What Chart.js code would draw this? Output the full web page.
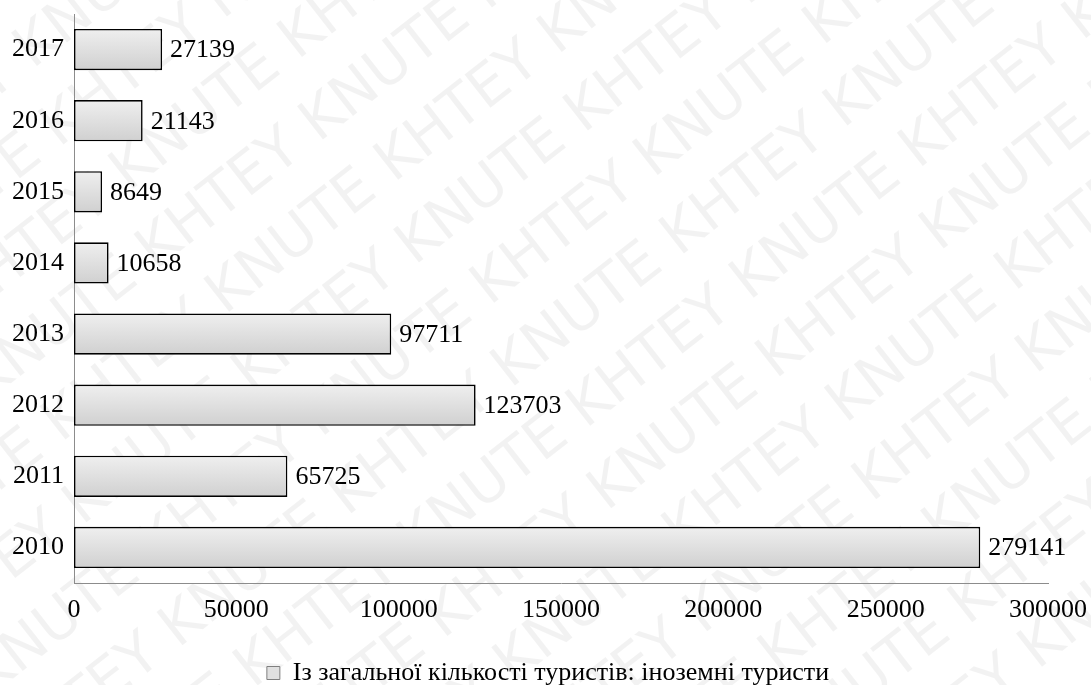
<!DOCTYPE html>
<html>
<head>
<meta charset="utf-8">
<script src="https://cdn.jsdelivr.net/npm/chart.js@4/dist/chart.umd.min.js"></script>
<style>
  html, body { margin: 0; padding: 0; background: #ffffff; }
  #wrap { width: 1091px; height: 685px; position: relative; }
</style>
</head>
<body>
<div id="wrap"><canvas id="c" width="1091" height="685"></canvas></div>
<script>
const categories = ['2010', '2011', '2012', '2013', '2014', '2015', '2016', '2017'];
const foreignTourists = [279141, 65725, 123703, 97711, 10658, 8649, 21143, 27139];
const seriesName = 'Із загальної кількості туристів: іноземні туристи';
const xTicks = [0, 50000, 100000, 150000, 200000, 250000, 300000];

const SERIF = '"Liberation Serif", "Times New Roman", serif';

const watermark = {
  id: 'watermark',
  beforeDraw(chart) {
    const ctx = chart.ctx;
    ctx.save();
    ctx.fillStyle = '#ffffff';
    ctx.fillRect(0, 0, chart.width, chart.height);
    ctx.translate(chart.width / 2, chart.height / 2);
    ctx.rotate(-38 * Math.PI / 180);
    ctx.font = '58px "DejaVu Sans", sans-serif';
    ctx.fillStyle = 'rgba(0,0,0,0.05)';
    ctx.textBaseline = 'middle';
    const line = 'KNUTE KHTEY KNUTE KHTEY KNUTE KHTEY KNUTE KHTEY KNUTE KHTEY';
    for (let i = -9; i <= 9; i++) {
      const alt = (i % 2 === 0) ? 0 : -180;
      ctx.fillText(line, -900 + alt, i * 78);
    }
    ctx.restore();
  }
};

const barGradient = {
  id: 'barGradient',
  beforeDatasetsDraw(chart) {
    const ctx = chart.ctx;
    chart.getDatasetMeta(0).data.forEach(el => {
      const top = el.y - el.height / 2;
      const bottom = el.y + el.height / 2;
      const g = ctx.createLinearGradient(0, top, 0, bottom);
      g.addColorStop(0, '#efefef');
      g.addColorStop(1, '#d0d0d0');
      el.options = Object.assign({}, el.options, { backgroundColor: g });
    });
  }
};

const valueLabels = {
  id: 'valueLabels',
  afterDatasetsDraw(chart) {
    const ctx = chart.ctx;
    ctx.save();
    ctx.font = '26px ' + SERIF;
    ctx.fillStyle = '#000000';
    ctx.textAlign = 'left';
    ctx.textBaseline = 'middle';
    const meta = chart.getDatasetMeta(0);
    meta.data.forEach((el, i) => {
      ctx.fillText(String(chart.data.datasets[0].data[i]), el.x + 8, el.y + 1);
    });
    ctx.restore();
  }
};

const legendShift = {
  id: 'legendShift',
  afterLayout(chart) {
    const lg = chart.legend;
    if (lg) { lg.left += 24; lg.right += 24; }
  }
};

new Chart(document.getElementById('c'), {
  type: 'bar',
  data: {
    labels: categories,
    datasets: [{
      label: seriesName,
      data: foreignTourists,
      backgroundColor: () => '#e0e0e0',
      borderColor: '#000000',
      borderWidth: 1.6,
      borderSkipped: false,
      barPercentage: 0.58,
      categoryPercentage: 1.0
    }]
  },
  options: {
    indexAxis: 'y',
    responsive: false,
    animation: false,
    events: [],
    layout: { padding: { top: 14, right: 43, left: 0, bottom: -11 } },
    scales: {
      x: {
        min: 0,
        max: 300000,
        afterBuildTicks(scale) { scale.ticks = xTicks.map(v => ({ value: v })); },
        afterFit(scale) { scale.height = 67; scale.paddingLeft = 0; scale.paddingRight = 0; },
        grid: { display: false, drawTicks: false },
        border: { display: true, color: '#8c8c8c', width: 1 },
        ticks: {
          font: { family: SERIF, size: 26 },
          color: '#000000',
          padding: 12,
          maxRotation: 0,
          autoSkip: false,
          callback: v => String(v)
        }
      },
      y: {
        reverse: true,
        afterFit(scale) { scale.width = 74; scale.paddingTop = 0; scale.paddingBottom = 0; },
        grid: { display: false, drawTicks: false },
        border: { display: true, color: '#8c8c8c', width: 1 },
        ticks: {
          font: { family: SERIF, size: 26 },
          color: '#000000',
          padding: 10
        }
      }
    },
    plugins: {
      legend: {
        position: 'bottom',
        labels: {
          font: { family: SERIF, size: 26 },
          color: '#000000',
          boxWidth: 13,
          boxHeight: 13,
          padding: 10,
          generateLabels(chart) {
            return [{
              text: seriesName,
              fillStyle: '#e0e0e0',
              strokeStyle: '#7f7f7f',
              lineWidth: 1,
              datasetIndex: 0,
              hidden: false
            }];
          }
        }
      },
      tooltip: { enabled: false }
    }
  },
  plugins: [watermark, barGradient, valueLabels, legendShift]
});
</script>
</body>
</html>
